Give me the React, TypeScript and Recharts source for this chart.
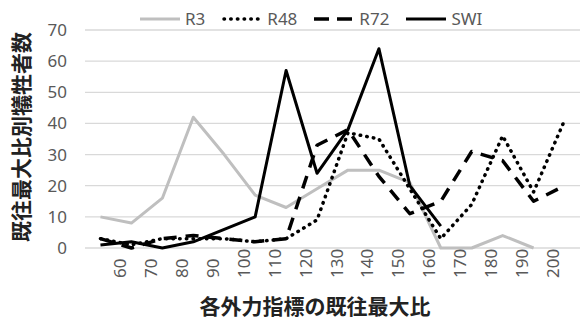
import { LineChart, Line, XAxis, YAxis, CartesianGrid } from 'recharts';

// bins: value at 55 = "under 60", 65 = "60-70", ... 205 = "over 200"
const binCenters = [55, 65, 75, 85, 95, 105, 115, 125, 135, 145, 155, 165, 175, 185, 195, 205];
const xTicks = [60, 70, 80, 90, 100, 110, 120, 130, 140, 150, 160, 170, 180, 190, 200];
const yTicks = [0, 10, 20, 30, 40, 50, 60, 70];

const r3 = [10, 8, 16, 42, 30, 17, 13, 19, 25, 25, 21, 0, 0, 4, 0, null];
const r48 = [3, 1, 3, 3, 3, 2, 3, 9, 37, 35, 19, 3, 14, 36, 18, 41];
const r72 = [3, 0, 3, 4, 3, 2, 3, 33, 38, 23, 11, 15, 31, 28, 15, 20];
const swi = [1, 2, 0, 2, 6, 10, 57, 24, 38, 64, 20, 7, null, null, null, null];

const data = binCenters.map((x, i) => ({ x, R3: r3[i], R48: r48[i], R72: r72[i], SWI: swi[i] }));

const FONT = "'Noto Sans', 'Noto Sans CJK JP', sans-serif";
const TICK = '#595959';

const series = [
  { key: 'R3', color: '#bfbfbf', width: 3, dash: undefined, cap: 'butt' },
  { key: 'R48', color: '#000', width: 3.5, dash: '0.5 6.2', cap: 'round' },
  { key: 'R72', color: '#000', width: 3.5, dash: '13 9', cap: 'butt' },
  { key: 'SWI', color: '#000', width: 3, dash: undefined, cap: 'butt' },
];

function XTick(props: any) {
  const { x, y, payload } = props;
  return (
    <text
      transform={`translate(${x + 10},${y + 22}) rotate(-90)`}
      textAnchor="start"
      fill={TICK}
      fontSize={17}
    >
      {payload.value}
    </text>
  );
}

function LegendRow() {
  return (
    <div style={{ position: 'absolute', left: 140, top: 8, display: 'flex', alignItems: 'center', fontSize: 17, color: TICK, lineHeight: '22px' }}>
      {series.map((s) => (
        <div key={s.key} style={{ display: 'flex', alignItems: 'center', marginRight: 17 }}>
          <svg width={40} height={22} style={{ marginRight: 5 }}>
            <line
              x1={s.cap === 'round' ? 2 : 0}
              y1={11}
              x2={40}
              y2={11}
              stroke={s.color}
              strokeWidth={s.width}
              strokeDasharray={s.key === 'R72' ? '15 8' : s.dash}
              strokeLinecap={s.cap as any}
            />
          </svg>
          <span>{s.key}</span>
        </div>
      ))}
    </div>
  );
}

export default function App() {
  return (
    <div style={{ position: 'absolute', left: 0, top: 0, width: 580, height: 318, overflow: 'hidden', fontFamily: FONT, background: '#fff' }}>
      <LineChart width={580} height={318} data={data} margin={{ top: 30, right: 0, left: 0, bottom: 0 }}>
        <CartesianGrid vertical={false} stroke="#d9d9d9" strokeWidth={1.3} />
        <XAxis
          dataKey="x"
          type="number"
          domain={[50, 210]}
          ticks={xTicks}
          interval={0}
          height={70}
          axisLine={false}
          tickLine={false}
          tick={<XTick />}
        />
        <YAxis
          domain={[0, 70]}
          ticks={yTicks}
          width={85}
          axisLine={false}
          tickLine={false}
          tickMargin={12}
          tick={{ fill: TICK, fontSize: 17 }}
        />
        {series.map((s) => (
          <Line
            key={s.key}
            type="linear"
            dataKey={s.key}
            stroke={s.color}
            strokeWidth={s.width}
            strokeDasharray={s.dash}
            strokeLinecap={s.cap as any}
            strokeLinejoin="round"
            dot={false}
            activeDot={false}
            isAnimationActive={false}
          />
        ))}
      </LineChart>
      <LegendRow />
      <div style={{ position: 'absolute', left: 315, top: 306, transform: 'translate(-50%, -50%)', fontSize: 21, lineHeight: 1, fontWeight: 'bold', color: '#222', whiteSpace: 'nowrap' }}>
        各外力指標の既往最大比
      </div>
      <div style={{ position: 'absolute', left: 21, top: 137, transform: 'translate(-50%, -50%) rotate(-90deg)', fontSize: 21, lineHeight: 1, fontWeight: 'bold', color: '#222', whiteSpace: 'nowrap' }}>
        既往最大比別犠牲者数
      </div>
    </div>
  );
}
